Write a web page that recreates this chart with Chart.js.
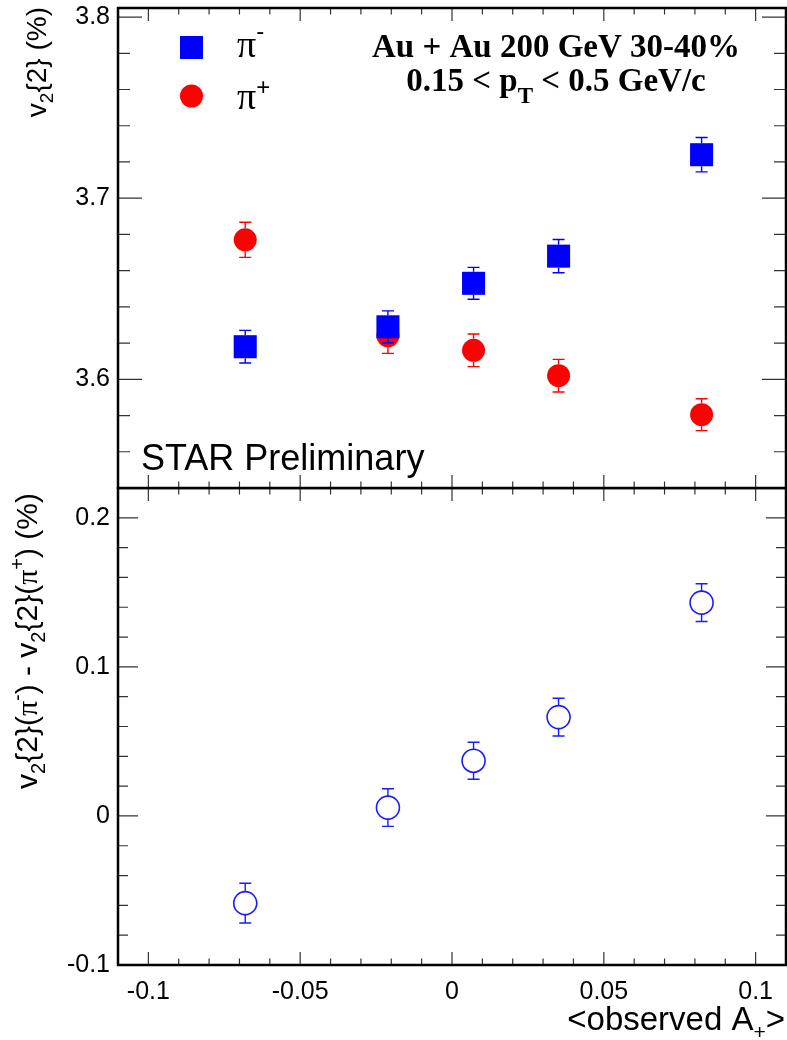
<!DOCTYPE html>
<html>
<head>
<meta charset="utf-8">
<script src="https://cdn.jsdelivr.net/npm/chart.js@4.4.1/dist/chart.umd.min.js"></script>
<style>
  html, body { margin: 0; padding: 0; background: #fff; }
  #wrap { position: relative; width: 787px; height: 1040px; }
  canvas { position: absolute; left: 0; }
  #topChart { top: 0; }
  #bottomChart { top: 487px; }
</style>
</head>
<body>
<div id="wrap">
  <canvas id="topChart" width="787" height="490"></canvas>
  <canvas id="bottomChart" width="787" height="553"></canvas>
</div>
<script>
// <observed A+> bins
const asymmetry = [-0.0681, -0.0211, 0.0071, 0.0351, 0.0822];

// v2{2} (%) for pi- and pi+
const v2PiMinus = [3.618, 3.629, 3.653, 3.668, 3.724];
const v2PiMinusErr = [0.009, 0.0088, 0.0088, 0.0092, 0.0095];
const v2PiPlus = [3.677, 3.624, 3.616, 3.602, 3.5805];
const v2PiPlusErr = [0.0097, 0.0097, 0.009, 0.009, 0.0088];

// v2{2}(pi-) - v2{2}(pi+) (%)
const v2Diff = [-0.0585, 0.0056, 0.037, 0.0663, 0.1431];
const v2DiffErr = [0.0133, 0.0126, 0.0124, 0.0127, 0.0127];

const xTicks = [-0.1, -0.05, 0, 0.05, 0.1];
const topYTicks = [3.6, 3.7, 3.8];
const bottomYTicks = [-0.1, 0, 0.1, 0.2];

const SANS = '"Liberation Sans", Arial, Helvetica, sans-serif';
const SERIF = '"Liberation Serif", "Times New Roman", serif';

function toPoints(ys) {
  return asymmetry.map((x, i) => ({ x: x, y: ys[i] }));
}

// the frame is placed by hand, so drop the label room chart.js reserves
function noScalePadding(s) {
  s.paddingTop = 0;
  s.paddingBottom = 0;
  s.paddingLeft = 0;
  s.paddingRight = 0;
}

// text with sub/superscripts, drawn piece by piece
function richWidth(ctx, parts) {
  let w = 0;
  parts.forEach(p => { ctx.font = p.font; w += ctx.measureText(p.t).width; });
  return w;
}
function drawRich(ctx, parts, x, y) {
  ctx.textAlign = 'left';
  ctx.textBaseline = 'alphabetic';
  parts.forEach(p => {
    ctx.font = p.font;
    ctx.fillText(p.t, x, y + (p.dy || 0));
    x += ctx.measureText(p.t).width;
  });
}

// ROOT-like error bars, only outside the marker
const errorBars = {
  id: 'errorBars',
  afterDatasetDraw(chart, args) {
    const ds = chart.data.datasets[args.index];
    if (!ds.errors) return;
    const ctx = chart.ctx;
    const yScale = chart.scales.y;
    ctx.save();
    ctx.strokeStyle = ds.borderColor;
    ctx.lineWidth = 1.4;
    ctx.beginPath();
    args.meta.data.forEach((pt, i) => {
      const hi = yScale.getPixelForValue(ds.data[i].y + ds.errors[i]);
      const lo = yScale.getPixelForValue(ds.data[i].y - ds.errors[i]);
      const gap = ds.markerHalf;
      if (pt.y - gap > hi) {
        ctx.moveTo(pt.x, pt.y - gap); ctx.lineTo(pt.x, hi);
      }
      if (pt.y + gap < lo) {
        ctx.moveTo(pt.x, pt.y + gap); ctx.lineTo(pt.x, lo);
      }
      ctx.moveTo(pt.x - 6, hi); ctx.lineTo(pt.x + 6, hi);
      ctx.moveTo(pt.x - 6, lo); ctx.lineTo(pt.x + 6, lo);
    });
    ctx.stroke();
    ctx.restore();
  }
};

// frame with inward ticks on all four sides
function drawFrame(chart, o) {
  const { ctx, chartArea: a } = chart;
  const x = chart.scales.x, y = chart.scales.y;
  ctx.save();
  ctx.strokeStyle = '#333';
  ctx.lineWidth = 1.2;
  ctx.beginPath();
  for (let k = Math.ceil(x.min / 0.01 - 1e-6); k <= Math.floor(x.max / 0.01 + 1e-6); k++) {
    const px = x.getPixelForValue(k * 0.01);
    const len = k % 5 === 0 ? o.xMajor : o.xMajor / 2;
    ctx.moveTo(px, a.bottom); ctx.lineTo(px, a.bottom - len);
    ctx.moveTo(px, a.top); ctx.lineTo(px, a.top + len);
  }
  for (let k = Math.ceil(y.min / 0.02 - 1e-6); k <= Math.floor(y.max / 0.02 + 1e-6); k++) {
    const py = y.getPixelForValue(k * 0.02);
    const len = k % 5 === 0 ? o.yMajor : o.yMajor / 2;
    ctx.moveTo(a.left, py); ctx.lineTo(a.left + len, py);
    ctx.moveTo(a.right, py); ctx.lineTo(a.right - len, py);
  }
  ctx.stroke();
  ctx.strokeStyle = '#000';
  ctx.lineWidth = 2.5;
  ctx.strokeRect(a.left, a.top, a.right - a.left, a.bottom - a.top);
  ctx.restore();
}

function yAxis(min, max, ticks, fmt) {
  return {
    type: 'linear', min: min, max: max,
    afterBuildTicks: s => { s.ticks = ticks.map(v => ({ value: v })); },
    afterFit: s => { s.width = 118; noScalePadding(s); },
    grid: { display: false, drawTicks: false },
    border: { display: false },
    ticks: { padding: 8, color: '#000', autoSkip: false, font: { family: SANS, size: 25 }, callback: fmt }
  };
}

const topChart = new Chart(document.getElementById('topChart'), {
  type: 'scatter',
  data: {
    datasets: [
      {
        label: 'π-',
        data: toPoints(v2PiMinus),
        errors: v2PiMinusErr,
        markerHalf: 11.5,
        order: 0,
        pointStyle: 'rect',
        pointRadius: 16.3,
        pointBorderWidth: 0,
        backgroundColor: '#0000ff',
        borderColor: '#0000ff'
      },
      {
        label: 'π+',
        data: toPoints(v2PiPlus),
        errors: v2PiPlusErr,
        markerHalf: 11.5,
        order: 1,
        pointStyle: 'circle',
        pointRadius: 11.5,
        pointBorderWidth: 0,
        backgroundColor: '#ff0000',
        borderColor: '#ff0000'
      }
    ]
  },
  options: {
    responsive: false,
    animation: false,
    devicePixelRatio: 1,
    layout: { autoPadding: false, padding: { top: 8, right: 1, bottom: 2, left: 0 } },
    plugins: { legend: { display: false }, tooltip: { enabled: false } },
    scales: {
      x: { type: 'linear', min: -0.11, max: 0.11, display: false },
      y: yAxis(3.54, 3.805, topYTicks, v => v.toFixed(1))
    }
  },
  plugins: [errorBars, {
    id: 'topDecor',
    afterDraw(chart) {
      const ctx = chart.ctx;
      drawFrame(chart, { xMajor: 13, yMajor: 24 });
      ctx.save();
      ctx.fillStyle = '#000';

      // legend
      ctx.fillStyle = '#0000ff';
      ctx.fillRect(180, 36, 23, 23);
      ctx.fillStyle = '#ff0000';
      ctx.beginPath();
      ctx.arc(191.5, 96, 11.5, 0, Math.PI * 2);
      ctx.fill();
      ctx.fillStyle = '#000';
      drawRich(ctx, [
        { t: 'π', font: '38px ' + SERIF },
        { t: '-', font: '24px ' + SANS, dy: -18 }
      ], 237, 57);
      drawRich(ctx, [
        { t: 'π', font: '38px ' + SERIF },
        { t: '+', font: '24px ' + SANS, dy: -14 }
      ], 237, 109);

      // header
      const head1 = [{ t: 'Au + Au 200 GeV 30-40%', font: 'bold 33px ' + SERIF }];
      drawRich(ctx, head1, 556 - richWidth(ctx, head1) / 2, 57);
      const head2 = [
        { t: '0.15 < p', font: 'bold 33px ' + SERIF },
        { t: 'T', font: 'bold 23px ' + SERIF, dy: 12 },
        { t: ' < 0.5 GeV/c', font: 'bold 33px ' + SERIF }
      ];
      drawRich(ctx, head2, 556 - richWidth(ctx, head2) / 2, 91);

      // STAR Preliminary
      drawRich(ctx, [{ t: 'STAR Preliminary', font: '36px ' + SANS }], 141, 470);

      // y title
      const yt = [
        { t: 'v', font: '28px ' + SANS },
        { t: '2', font: '19px ' + SANS, dy: 7 },
        { t: '{2} (%)', font: '28px ' + SANS }
      ];
      const w = richWidth(ctx, yt);
      ctx.translate(46, 7);
      ctx.rotate(-Math.PI / 2);
      drawRich(ctx, yt, -w, 0);
      ctx.restore();
    }
  }]
});

const bottomChart = new Chart(document.getElementById('bottomChart'), {
  type: 'scatter',
  data: {
    datasets: [
      {
        label: 'v2{2}(π-) - v2{2}(π+)',
        data: toPoints(v2Diff),
        errors: v2DiffErr,
        markerHalf: 11.5,
        pointStyle: 'circle',
        pointRadius: 11.5,
        pointBorderWidth: 1.6,
        backgroundColor: 'rgba(0,0,0,0)',
        borderColor: '#1a1aff'
      }
    ]
  },
  options: {
    responsive: false,
    animation: false,
    devicePixelRatio: 1,
    layout: { autoPadding: false, padding: { top: 1, right: 1, bottom: 0, left: 0 } },
    plugins: { legend: { display: false }, tooltip: { enabled: false } },
    scales: {
      x: {
        type: 'linear', min: -0.11, max: 0.11,
        afterBuildTicks: s => { s.ticks = xTicks.map(v => ({ value: v })); },
        afterFit: s => { s.height = 75; noScalePadding(s); },
        grid: { display: false, drawTicks: false },
        border: { display: false },
        ticks: { padding: 12, color: '#000', autoSkip: false, maxRotation: 0, font: { family: SANS, size: 25 }, callback: v => String(v) }
      },
      y: yAxis(-0.1, 0.22, bottomYTicks, v => String(v))
    }
  },
  plugins: [errorBars, {
    id: 'bottomDecor',
    afterDraw(chart) {
      const ctx = chart.ctx;
      drawFrame(chart, { xMajor: 13, yMajor: 20 });
      ctx.save();
      ctx.fillStyle = '#000';

      // x title
      const xt = [
        { t: '<observed A', font: '33px ' + SANS },
        { t: '+', font: '21px ' + SANS, dy: 9 },
        { t: '>', font: '33px ' + SANS }
      ];
      drawRich(ctx, xt, 785 - richWidth(ctx, xt), 543);

      // y title
      const big = '30px ' + SANS, sub = '20px ' + SANS, pi = '30px ' + SERIF;
      const yt = [
        { t: 'v', font: big }, { t: '2', font: sub, dy: 8 }, { t: '{2}(', font: big },
        { t: 'π', font: pi }, { t: '-', font: sub, dy: -13 }, { t: ') - v', font: big },
        { t: '2', font: sub, dy: 8 }, { t: '{2}(', font: big },
        { t: 'π', font: pi }, { t: '+', font: sub, dy: -13 }, { t: ') (%)', font: big }
      ];
      const w = richWidth(ctx, yt);
      ctx.translate(37, 6);
      ctx.rotate(-Math.PI / 2);
      drawRich(ctx, yt, -w, 0);
      ctx.restore();
    }
  }]
});
</script>
</body>
</html>
